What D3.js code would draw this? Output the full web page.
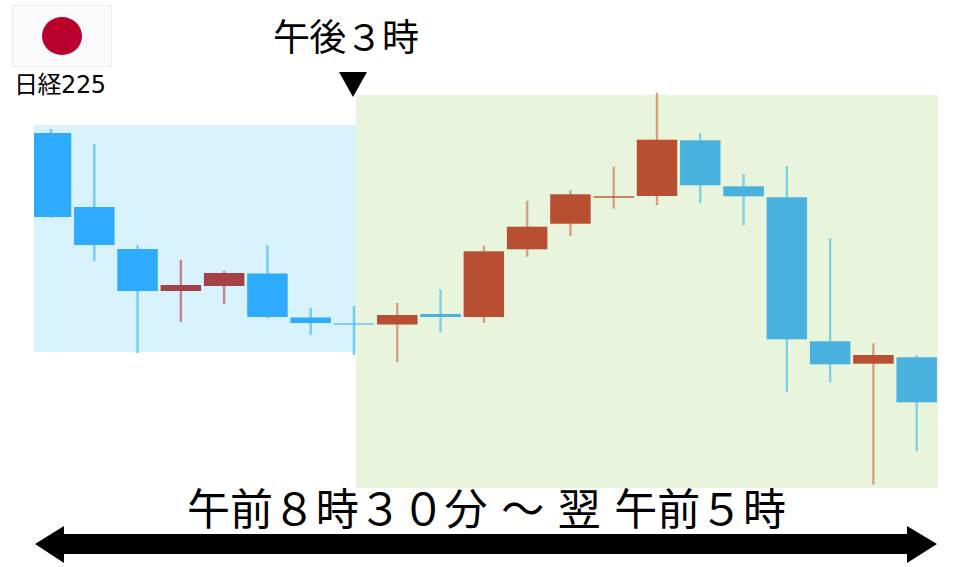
<!DOCTYPE html>
<html>
<head>
<meta charset="utf-8">
<script src="https://cdn.jsdelivr.net/npm/d3@7"></script>
<style>
  html, body { margin: 0; padding: 0; background: #fff; }
  text { font-family: "DejaVu Sans", "Noto Sans CJK JP", sans-serif; fill: #000; }
</style>
</head>
<body>
<div class="diagram"></div>
<script>
// index values, one per candle
const candles = d3.range(21);
const opens  = [355, 281, 239, 197, 202, 214.5, 170.5, 164.5, 163.5, 174, 171, 238.7, 264.3, 290.3, 292, 347.7, 301.7, 290.7, 146.7, 124.3, 130.7];
const closes = [271, 243, 197, 203, 215, 171, 165, 163.5, 173, 171, 236.7, 261.3, 293.7, 291.7, 348.3, 302.7, 291.7, 148.7, 123.7, 133, 85.7];
const highs  = [359, 344, 243, 228, 217, 242.5, 180, 182, 185, 198.5, 242.3, 287.3, 297.7, 321.3, 395.3, 355, 314, 322, 249.7, 144.7, 133];
const lows   = [270, 227, 135, 166, 184, 169.5, 153, 133, 126, 155.5, 165, 231.3, 252, 279.3, 283, 284.7, 262.7, 95.7, 105.7, 3.3, 36.7];
const sessionOf = ["tokyo", "tokyo", "tokyo", "tokyo", "tokyo", "tokyo", "tokyo", "tokyo", "night", "night", "night", "night", "night", "night", "night", "night", "night", "night", "night", "night", "night"];

const bodyColor = {
  tokyo: { up: "#A63F47", down: "#2EABFF" },
  night: { up: "#B84F32", down: "#48B1DD" }
};
const wickColor = {
  tokyo: { up: "#C2858F", down: "#6ECBFA" },
  night: { up: "#D3A083", down: "#80D0E4" }
};

const W = 960, H = 567;

const svg = d3.select(".diagram")
  .append("svg")
  .attr("width", W)
  .attr("height", H)
  .style("display", "block");

// the source candles are a scaled up bitmap, so edges are a bit soft
svg.append("filter").attr("id", "soft")
  .attr("filterUnits", "userSpaceOnUse")
  .attr("x", 0).attr("y", 0).attr("width", W).attr("height", H)
  .append("feGaussianBlur")
  .attr("stdDeviation", 0.5);

const xScale = d3.scaleBand()
  .domain(candles)
  .range([29.35, 938.35])
  .paddingInner(0.065)
  .paddingOuter(0.0325);

const yScale = d3.scaleLinear()
  .domain([0, 400])
  .range([488, 88]);

// session panels
svg.append("rect")
  .attr("x", 34).attr("y", 125)
  .attr("width", 322).attr("height", 227)
  .attr("fill", "#D7F2FC");
svg.append("rect")
  .attr("x", 356).attr("y", 95)
  .attr("width", 582).attr("height", 393)
  .attr("fill", "#E8F4DC");

svg.append("clipPath").attr("id", "plot")
  .append("rect")
  .attr("x", 34).attr("y", 0)
  .attr("width", 904).attr("height", H);

const chart = svg.append("g")
  .attr("clip-path", "url(#plot)")
  .append("g")
  .attr("filter", "url(#soft)");
const dir = (i) => closes[i] >= opens[i] ? "up" : "down";

chart.selectAll("line.wick")
  .data(candles)
  .enter()
  .append("line")
  .attr("class", "wick")
  .attr("x1", (i) => xScale(i) + xScale.bandwidth() / 2)
  .attr("x2", (i) => xScale(i) + xScale.bandwidth() / 2)
  .attr("y1", (i) => yScale(highs[i]))
  .attr("y2", (i) => yScale(lows[i]))
  .attr("stroke", (i) => wickColor[sessionOf[i]][dir(i)])
  .attr("stroke-width", 2.4);

chart.selectAll("rect.body")
  .data(candles)
  .enter()
  .append("rect")
  .attr("class", "body")
  .attr("x", (i) => xScale(i))
  .attr("y", (i) => yScale(Math.max(opens[i], closes[i])))
  .attr("width", xScale.bandwidth())
  .attr("height", (i) => Math.abs(yScale(opens[i]) - yScale(closes[i])))
  .attr("fill", (i) => bodyColor[sessionOf[i]][dir(i)]);

// flag + label
svg.append("rect")
  .attr("x", 12.5).attr("y", 5.5)
  .attr("width", 99).attr("height", 61)
  .attr("fill", "#FAFAFA").attr("stroke", "#EEEEEE");
svg.append("ellipse")
  .attr("cx", 62).attr("cy", 36)
  .attr("rx", 20).attr("ry", 19)
  .attr("fill", "#BC002D");
svg.append("text")
  .attr("x", 14).attr("y", 93)
  .attr("font-size", 24)
  .attr("textLength", 92)
  .text("日経225");

// 3pm marker
svg.append("text")
  .attr("x", 273).attr("y", 51)
  .attr("font-size", 37)
  .attr("textLength", 146)
  .text("午後３時");
svg.append("path")
  .attr("d", "M339,72L367,72L353,97Z")
  .attr("fill", "#000");

// bottom span
svg.append("text")
  .attr("x", 187).attr("y", 525)
  .attr("font-size", 43)
  .attr("textLength", 599)
  .text("午前８時３０分 ～ 翌 午前５時");
svg.append("path")
  .attr("d", "M35,544L64,526L64,534L907,534L907,526L937,544L907,563L907,554L64,554L64,563Z")
  .attr("fill", "#000");
</script>
</body>
</html>
